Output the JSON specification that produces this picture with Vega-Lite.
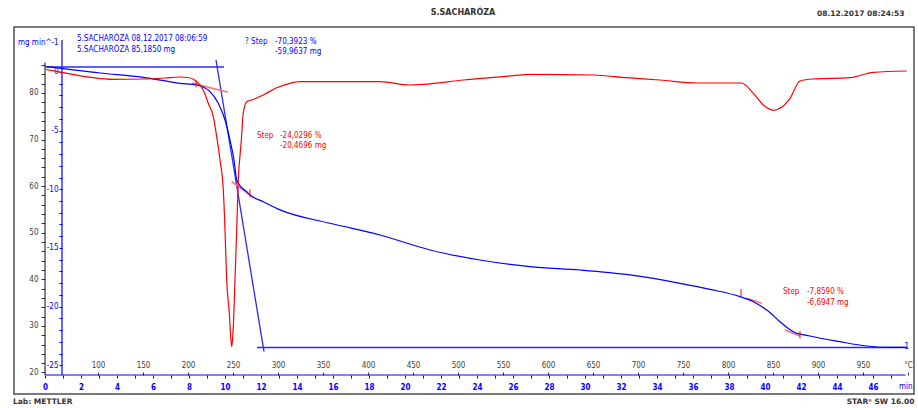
{
  "$schema": "https://vega.github.io/schema/vega-lite/v6.json",
  "width": 900,
  "height": 367,
  "autosize": {"type": "none"},
  "padding": {"left": 14, "top": 27, "right": 4, "bottom": 14},
  "background": "white",
  "config": {
    "view": {"stroke": "#4d4d4d", "strokeWidth": 1.5},
    "axis": {"grid": false, "labelFont": "Liberation Sans Narrow, DejaVu Sans Condensed, sans-serif", "labelFontSize": 8},
    "text": {"font": "Liberation Sans Narrow, DejaVu Sans Condensed, sans-serif", "fontSize": 8}
  },
  "datasets": {
    "tg": [
      {"t": 0.094, "m": 85.62}, {"t": 3.056, "m": 84.27}, {"t": 5.461, "m": 83.35}, {"t": 7.5, "m": 82.06},
      {"t": 8.428, "m": 81.7}, {"t": 9.167, "m": 80.26}, {"t": 9.628, "m": 77.77}, {"t": 10.0, "m": 74.18},
      {"t": 10.278, "m": 69.89}, {"t": 10.5, "m": 65.6}, {"t": 10.65, "m": 61.31}, {"t": 10.739, "m": 60.6},
      {"t": 11.206, "m": 58.8}, {"t": 11.389, "m": 58.09}, {"t": 12.128, "m": 56.65}, {"t": 13.056, "m": 54.9},
      {"t": 15.833, "m": 52.02}, {"t": 18.611, "m": 49.51}, {"t": 21.389, "m": 46.29}, {"t": 24.167, "m": 44.14},
      {"t": 26.944, "m": 42.7}, {"t": 29.722, "m": 41.99}, {"t": 32.5, "m": 40.93}, {"t": 35.278, "m": 39.14},
      {"t": 36.944, "m": 37.85}, {"t": 38.611, "m": 36.27}, {"t": 39.35, "m": 35.19}, {"t": 40.094, "m": 33.41},
      {"t": 40.833, "m": 30.9}, {"t": 41.572, "m": 28.76}, {"t": 42.5, "m": 27.83}, {"t": 44.167, "m": 26.61},
      {"t": 45.65, "m": 25.69}, {"t": 46.667, "m": 25.41}, {"t": 47.872, "m": 25.41}
    ],
    "dtg": [
      {"t": 0.056, "d": 0.213}, {"t": 0.722, "d": 0.026}, {"t": 3.778, "d": -0.622}, {"t": 5.444, "d": -0.597},
      {"t": 6.667, "d": -0.512}, {"t": 7.5, "d": -0.426}, {"t": 7.944, "d": -0.469}, {"t": 8.239, "d": -0.622},
      {"t": 8.5, "d": -0.938}, {"t": 8.794, "d": -1.535}, {"t": 9.072, "d": -2.668}, {"t": 9.35, "d": -3.811},
      {"t": 9.539, "d": -5.516}, {"t": 9.722, "d": -7.502}, {"t": 9.906, "d": -10.06}, {"t": 10.0, "d": -13.47},
      {"t": 10.094, "d": -17.73}, {"t": 10.239, "d": -20.57}, {"t": 10.317, "d": -22.57}, {"t": 10.372, "d": -23.42},
      {"t": 10.417, "d": -22.85}, {"t": 10.461, "d": -21.71}, {"t": 10.556, "d": -17.73}, {"t": 10.65, "d": -13.47},
      {"t": 10.739, "d": -9.207}, {"t": 10.861, "d": -6.65}, {"t": 10.928, "d": -5.371}, {"t": 11.0, "d": -3.666},
      {"t": 11.206, "d": -2.532}, {"t": 11.483, "d": -2.387}, {"t": 12.128, "d": -1.961}, {"t": 12.872, "d": -1.338},
      {"t": 13.611, "d": -0.963}, {"t": 14.167, "d": -0.827}, {"t": 18.611, "d": -0.827}, {"t": 20.278, "d": -1.108},
      {"t": 21.017, "d": -1.049}, {"t": 23.239, "d": -0.682}, {"t": 26.017, "d": -0.315}, {"t": 26.944, "d": -0.196},
      {"t": 30.461, "d": -0.256}, {"t": 32.317, "d": -0.486}, {"t": 34.167, "d": -0.682}, {"t": 36.206, "d": -0.938},
      {"t": 38.706, "d": -0.938}, {"t": 39.35, "d": -1.816}, {"t": 39.906, "d": -2.813}, {"t": 40.461, "d": -3.265},
      {"t": 40.833, "d": -3.095}, {"t": 41.389, "d": -2.242}, {"t": 41.944, "d": -0.767}, {"t": 42.683, "d": -0.597},
      {"t": 44.722, "d": -0.486}, {"t": 46.017, "d": -0.026}, {"t": 47.872, "d": 0.085}
    ],
    "axisLines": [
      {"line": "mass", "t": 0, "m": 19.46, "t2": 0, "m2": 86.5},
      {"line": "dtg", "t": 0.944, "m": 19.46, "t2": 0.944, "m2": 91.35},
      {"line": "time", "t": 0, "m": 19.46, "t2": 47.8, "m2": 19.46}
    ],
    "tgAux": [
      {"seg": "top", "t": 0, "m": 85.56}, {"seg": "top", "t": 9.944, "m": 85.56},
      {"seg": "tangent", "t": 9.5, "m": 87.06}, {"seg": "tangent", "t": 12.167, "m": 24.46},
      {"seg": "base", "t": 11.778, "m": 25.36}, {"seg": "base", "t": 47.889, "m": 25.36}
    ],
    "evalAux": [
      {"seg": "a", "t": 8.167, "m": 82.12}, {"seg": "a", "t": 10.167, "m": 80.13},
      {"seg": "b", "t": 10.372, "m": 60.94}, {"seg": "b", "t": 11.389, "m": 58.09},
      {"seg": "c", "t": 38.98, "m": 35.92}, {"seg": "c", "t": 39.82, "m": 34.85},
      {"seg": "d", "t": 41.11, "m": 29.12}, {"seg": "d", "t": 41.94, "m": 27.83}
    ],
    "evalMarks": [
      {"t": 8.389, "m": 81.2, "m2": 82.8},
      {"t": 11.389, "m": 57.6, "m2": 59.3},
      {"t": 38.667, "m": 36.4, "m2": 37.9},
      {"t": 41.944, "m": 27.3, "m2": 28.9}
    ],
    "notesBlue": [
      {"t": 1.778, "m": 91.57, "label": "5.SACHARÓZA 08.12.2017 08:06:59"},
      {"t": 1.778, "m": 89.21, "label": "5.SACHARÓZA 85,1850 mg"},
      {"t": 11.111, "m": 90.92, "label": "? Step"},
      {"t": 12.778, "m": 90.92, "label": "-70,3923 %"},
      {"t": 12.778, "m": 88.78, "label": "-59,9637 mg"},
      {"t": -1.5, "m": 90.71, "label": "mg min^-1"},
      {"t": 47.75, "m": 25.5, "label": "1"},
      {"t": 47.45, "m": 16.89, "label": "min"}
    ],
    "notesRed": [
      {"t": 11.778, "m": 70.82, "label": "Step"},
      {"t": 13.056, "m": 70.82, "label": "-24,0296 %"},
      {"t": 13.056, "m": 68.61, "label": "-20,4696 mg"},
      {"t": 41.0, "m": 37.21, "label": "Step"},
      {"t": 42.333, "m": 37.21, "label": "-7,8590 %"},
      {"t": 42.333, "m": 34.85, "label": "-6,6947 mg"}
    ],
    "frameText": [
      {"pos": "center", "t": 23.222, "m": 97.15, "label": "S.SACHARÓZA"},
      {"pos": "left", "t": 42.889, "m": 96.94, "label": "08.12.2017 08:24:53"},
      {"pos": "left", "t": -1.778, "m": 13.67, "label": "Lab: METTLER"},
      {"pos": "right", "t": 48.3, "m": 13.67, "label": "STARᵉ SW 16.00"}
    ],
    "temps": [
      {"T": 100}, {"T": 150}, {"T": 200}, {"T": 250}, {"T": 300}, {"T": 350}, {"T": 400}, {"T": 450}, {"T": 500},
      {"T": 550}, {"T": 600}, {"T": 650}, {"T": 700}, {"T": 750}, {"T": 800}, {"T": 850}, {"T": 900}, {"T": 950}
    ]
  },
  "layer": [
    {
      "encoding": {
        "x": {
          "field": "t", "type": "quantitative",
          "scale": {"domain": [-1.7222, 48.2778], "nice": false, "zero": false},
          "axis": {
            "orient": "bottom", "offset": -19, "domain": false, "title": null,
            "values": [0,1,2,3,4,5,6,7,8,9,10,11,12,13,14,15,16,17,18,19,20,21,22,23,24,25,26,27,28,29,30,31,32,33,34,35,36,37,38,39,40,41,42,43,44,45,46,47],
            "labelExpr": "datum.value % 2 == 0 ? datum.label : ''",
            "tickColor": "#0000ff", "tickSize": 3, "labelColor": "#0000ff", "labelFontWeight": "bold", "labelPadding": 5
          }
        },
        "y": {
          "field": "m", "type": "quantitative",
          "scale": {"domain": [15.386, 94.142], "nice": false, "zero": false},
          "axis": {
            "orient": "left", "offset": -31, "domain": false, "title": null,
            "values": [20,22,24,26,28,30,32,34,36,38,40,42,44,46,48,50,52,54,56,58,60,62,64,66,68,70,72,74,76,78,80,82,84,86],
            "labelExpr": "datum.value % 10 == 0 ? datum.label : ''",
            "tickColor": "#333333", "tickSize": 4, "labelColor": "#404040", "labelPadding": 3
          }
        }
      },
      "layer": [
        {
          "data": {"name": "axisLines"},
          "mark": {"type": "rule", "strokeWidth": 1.2},
          "encoding": {
            "x2": {"field": "t2"},
            "y2": {"field": "m2"},
            "color": {"field": "line", "type": "nominal", "scale": {"domain": ["mass", "dtg", "time"], "range": ["#333333", "#0000ff", "#0000ff"]}, "legend": null}
          }
        },
        {
          "data": {"name": "tgAux"},
          "mark": {"type": "line", "color": "#2a2aff", "strokeWidth": 1.3},
          "encoding": {"detail": {"field": "seg"}}
        },
        {
          "data": {"name": "evalAux"},
          "mark": {"type": "line", "color": "#ff6f6f", "strokeWidth": 1.6},
          "encoding": {"detail": {"field": "seg"}}
        },
        {
          "data": {"name": "tg"},
          "mark": {"type": "line", "color": "#0000ff", "strokeWidth": 1.2, "interpolate": "monotone"},
          "encoding": {}
        },
        {
          "data": {"name": "evalMarks"},
          "mark": {"type": "rule", "color": "#ff0000", "strokeWidth": 1},
          "encoding": {"y2": {"field": "m2"}}
        },
        {
          "data": {"name": "notesBlue"},
          "mark": {"type": "text", "color": "#0000ff", "align": "left", "baseline": "middle"},
          "encoding": {"text": {"field": "label"}}
        },
        {
          "data": {"name": "notesRed"},
          "mark": {"type": "text", "color": "#ff0000", "align": "left", "baseline": "middle"},
          "encoding": {"text": {"field": "label"}}
        },
        {
          "data": {"name": "frameText"},
          "transform": [{"filter": "datum.pos == 'center'"}],
          "mark": {"type": "text", "color": "#333333", "align": "center", "baseline": "middle", "font": "DejaVu Sans", "fontWeight": "bold", "fontSize": 8},
          "encoding": {"text": {"field": "label"}}
        },
        {
          "data": {"name": "frameText"},
          "transform": [{"filter": "datum.pos == 'left'"}],
          "mark": {"type": "text", "color": "#333333", "align": "left", "baseline": "middle", "font": "DejaVu Sans", "fontWeight": "bold", "fontSize": 7.5},
          "encoding": {"text": {"field": "label"}}
        },
        {
          "data": {"name": "frameText"},
          "transform": [{"filter": "datum.pos == 'right'"}],
          "mark": {"type": "text", "color": "#333333", "align": "right", "baseline": "middle", "font": "DejaVu Sans", "fontWeight": "bold", "fontSize": 7.5},
          "encoding": {"text": {"field": "label"}}
        }
      ]
    },
    {
      "data": {"name": "dtg"},
      "mark": {"type": "line", "color": "#ff0000", "strokeWidth": 1.2, "interpolate": "monotone"},
      "encoding": {
        "x": {"field": "t", "type": "quantitative", "scale": {"domain": [-1.7222, 48.2778], "nice": false, "zero": false}, "axis": null},
        "y": {
          "field": "d", "type": "quantitative",
          "scale": {"domain": [-27.45, 3.836], "nice": false, "zero": false},
          "axis": {
            "orient": "left", "offset": -48, "domain": false, "title": null,
            "values": [0,-1,-2,-3,-4,-5,-6,-7,-8,-9,-10,-11,-12,-13,-14,-15,-16,-17,-18,-19,-20,-21,-22,-23,-24,-25],
            "labelExpr": "datum.value % 5 == 0 ? '' + datum.value : ''",
            "tickColor": "#0000ff", "tickSize": 3, "labelColor": "#0000ff", "labelPadding": 1
          }
        }
      }
    },
    {
      "data": {"name": "temps"},
      "mark": {"type": "point", "opacity": 0},
      "encoding": {
        "x": {
          "field": "T", "type": "quantitative",
          "scale": {"domain": [6.656, 1006.66], "nice": false, "zero": false},
          "axis": {
            "orient": "top", "offset": -348, "domain": false, "title": null,
            "values": [100,150,200,250,300,350,400,450,500,550,600,650,700,750,800,850,900,950,1000],
            "labelExpr": "datum.value == 1000 ? '°C' : datum.label",
            "tickColor": "#333333", "tickSize": 3, "labelColor": "#404040", "labelPadding": 3
          }
        }
      }
    }
  ],
  "resolve": {"scale": {"x": "independent", "y": "independent"}}
}
